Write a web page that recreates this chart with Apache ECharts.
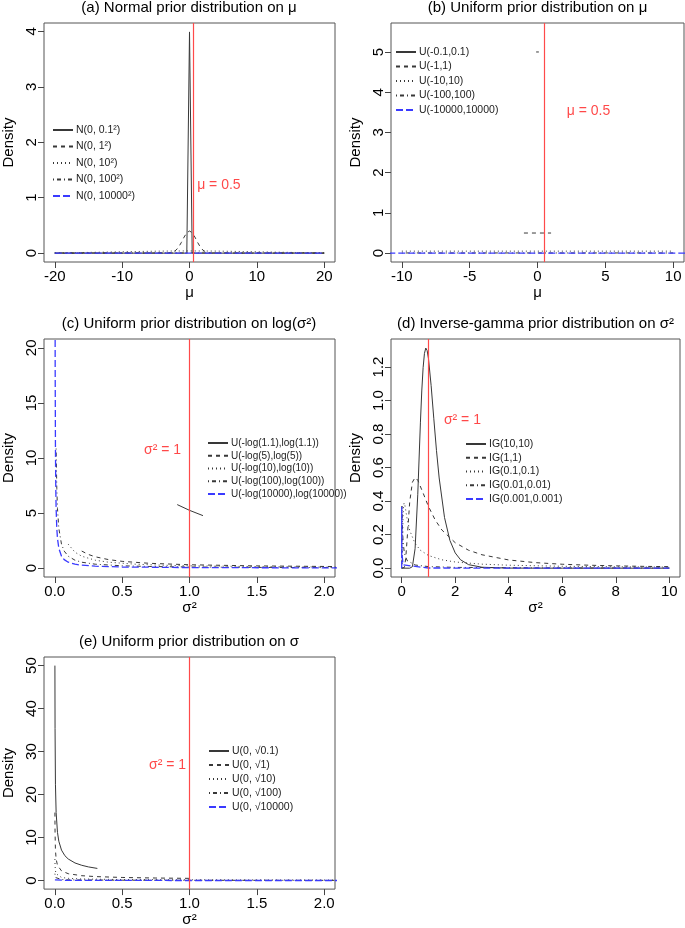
<!DOCTYPE html>
<html><head><meta charset="utf-8">
<script src="https://cdn.jsdelivr.net/npm/echarts@6/dist/echarts.min.js"></script>
<style>html,body{margin:0;padding:0;background:#fff}#c{width:685px;height:928px}</style>
</head><body><div id="c"></div>
<script>
// ---------- Panel (a): Normal prior on mu ----------
const aNames = ['N(0, 0.1²)', 'N(0, 1²)', 'N(0, 10²)', 'N(0, 100²)', 'N(0, 10000²)'];
const normSd01 = [[-20,0],[-0.4,0],[0,3.989],[0.4,0],[20,0]];
const normSd1 = [[-20,0],[-3.2,0.0024],[-2.8,0.0079],[-2.4,0.0224],[-2.0,0.054],[-1.6,0.1109],[-1.2,0.1942],[-0.8,0.2897],[-0.4,0.3683],[0,0.3989],[0.4,0.3683],[0.8,0.2897],[1.2,0.1942],[1.6,0.1109],[2.0,0.054],[2.4,0.0224],[2.8,0.0079],[3.2,0.0024],[20,0]];
const normSd10 = [[-20,0.0054],[-16,0.0111],[-12,0.0194],[-8,0.029],[-4,0.0368],[0,0.0399],[4,0.0368],[8,0.029],[12,0.0194],[16,0.0111],[20,0.0054]];
const normSd100 = [[-20,0.00391],[0,0.00399],[20,0.00391]];
const normSd10000 = [[-20,0.00004],[20,0.00004]];
const aXTicks = [-20,-10,0,10,20];
const aYTicks = [0,1,2,3,4];

// ---------- Panel (b): Uniform prior on mu ----------
const bNames = ['U(-0.1,0.1)', 'U(-1,1)', 'U(-10,10)', 'U(-100,100)', 'U(-10000,10000)'];
const unifMu01 = [[-0.1,5],[0.1,5]];
const unifMu1 = [[-1,0.5],[1,0.5]];
const unifMu10 = [[-10,0.05],[10,0.05]];
const unifMu100 = [[-10,0.005],[10,0.005]];
const unifMu10000 = [[-11,0.00005],[11,0.00005]];
const bXTicks = [-10,-5,0,5,10];
const bYTicks = [0,1,2,3,4,5];

// ---------- Panel (c): Uniform prior on log(sigma^2) ----------
const cNames = ['U(-log(1.1),log(1.1))', 'U(-log(5),log(5))', 'U(-log(10),log(10))', 'U(-log(100),log(100))', 'U(-log(10000),log(10000))'];
const logU11 = [[0.909,5.77],[1.0,5.25],[1.1,4.77]];
const logU5 = [[0.2,1.553],[0.25,1.243],[0.3,1.036],[0.4,0.777],[0.5,0.621],[0.7,0.444],[1.0,0.311],[1.5,0.207],[2.1,0.148]];
const logU10 = [[0.1,2.171],[0.15,1.448],[0.2,1.086],[0.3,0.724],[0.4,0.543],[0.6,0.362],[0.8,0.271],[1.0,0.217],[1.5,0.145],[2.1,0.103]];
const logU100 = [[0.01,10.86],[0.015,7.24],[0.02,5.43],[0.03,3.62],[0.05,2.171],[0.07,1.551],[0.1,1.086],[0.15,0.724],[0.2,0.543],[0.3,0.362],[0.5,0.217],[0.7,0.155],[1.0,0.109],[1.5,0.072],[2.1,0.052]];
const logU10000 = [[0.001,54.3],[0.002,27.1],[0.003,18.1],[0.005,10.86],[0.0075,7.24],[0.01,5.43],[0.015,3.62],[0.02,2.71],[0.03,1.81],[0.05,1.086],[0.07,0.776],[0.1,0.543],[0.15,0.362],[0.2,0.271],[0.3,0.181],[0.5,0.109],[1.0,0.054],[2.1,0.026]];
const cXTicks = [0,0.5,1,1.5,2];
const cYTicks = [0,5,10,15,20];

// ---------- Panel (d): Inverse-gamma prior on sigma^2 ----------
const dNames = ['IG(10,10)', 'IG(1,1)', 'IG(0.1,0.1)', 'IG(0.01,0.01)', 'IG(0.001,0.001)'];
const ig10 = [[0,0],[0.3,0.00005],[0.4,0.009],[0.5,0.116],[0.6,0.438],[0.7,0.871],[0.75,1.057],[0.8,1.196],[0.85,1.281],[0.9,1.313],[0.95,1.298],[1.0,1.251],[1.1,1.089],[1.2,0.891],[1.3,0.701],[1.4,0.538],[1.6,0.302],[1.8,0.166],[2.0,0.091],[2.2,0.050],[2.5,0.021],[3.0,0.0056],[4.0,0.0005],[6,0],[10,0]];
const ig1 = [[0,0],[0.05,0],[0.1,0.0045],[0.15,0.057],[0.2,0.168],[0.3,0.396],[0.4,0.513],[0.5,0.541],[0.6,0.525],[0.8,0.448],[1.0,0.368],[1.25,0.288],[1.5,0.228],[2,0.152],[2.5,0.107],[3,0.080],[4,0.049],[5,0.033],[6,0.0235],[7,0.0177],[8,0.0138],[9,0.011],[10,0.009]];
const ig01 = [[0,0],[0.01,0.0006],[0.02,0.042],[0.03,0.141],[0.05,0.305],[0.07,0.373],[0.09,0.389],[0.12,0.374],[0.15,0.346],[0.2,0.297],[0.3,0.225],[0.5,0.147],[0.7,0.107],[1,0.0756],[1.5,0.050],[2,0.037],[3,0.024],[4,0.0177],[6,0.0114],[8,0.0084],[10,0.0066]];
const ig001 = [[0,0],[0.001,0],[0.002,0.034],[0.005,0.274],[0.01,0.370],[0.015,0.343],[0.02,0.303],[0.03,0.238],[0.05,0.162],[0.1,0.089],[0.2,0.046],[0.5,0.019],[1,0.0095],[2,0.0047],[5,0.0019],[10,0.0009]];
const ig0001 = [[0,0],[0.0001,0],[0.0002,0.034],[0.0005,0.271],[0.001,0.366],[0.002,0.303],[0.005,0.164],[0.01,0.090],[0.05,0.0196],[0.1,0.0099],[1,0.001],[10,0.0001]];
const dXTicks = [0,2,4,6,8,10];
const dYTicks = [0,0.2,0.4,0.6,0.8,1.0,1.2];

// ---------- Panel (e): Uniform prior on sigma ----------
const eNames = ['U(0, √0.1)', 'U(0, √1)', 'U(0, √10)', 'U(0, √100)', 'U(0, √10000)'];
const sqrtU01 = [[0.001,50.0],[0.002,35.4],[0.005,22.4],[0.01,15.8],[0.02,11.2],[0.03,9.13],[0.05,7.07],[0.075,5.77],[0.1,5.0],[0.15,4.08],[0.2,3.54],[0.25,3.16],[0.316,2.81]];
const sqrtU1 = [[0.001,15.8],[0.002,11.2],[0.005,7.07],[0.01,5.0],[0.02,3.54],[0.05,2.24],[0.1,1.58],[0.2,1.12],[0.3,0.913],[0.5,0.707],[0.75,0.577],[1.0,0.5]];
const sqrtU10 = [[0.001,5.0],[0.002,3.54],[0.005,2.24],[0.01,1.58],[0.02,1.12],[0.05,0.707],[0.1,0.5],[0.2,0.354],[0.5,0.224],[1,0.158],[1.5,0.129],[2.1,0.109]];
const sqrtU100 = [[0.001,1.58],[0.005,0.707],[0.01,0.5],[0.05,0.224],[0.1,0.158],[0.5,0.0707],[1,0.05],[2.1,0.0345]];
const sqrtU10000 = [[0.001,0.158],[0.01,0.05],[0.1,0.0158],[1,0.005],[2.1,0.00345]];
const eXTicks = [0,0.5,1,1.5,2];
const eYTicks = [0,10,20,30,40,50];

const titles = ['(a) Normal prior distribution on μ', '(b) Uniform prior distribution on μ',
  '(c) Uniform prior distribution on log(σ²)', '(d) Inverse-gamma prior distribution on σ²',
  '(e) Uniform prior distribution on σ'];
const refValues = [0.5, 0.5, 1, 1, 1];
const refTexts = ['μ = 0.5', 'μ = 0.5', 'σ² = 1', 'σ² = 1', 'σ² = 1'];

// ---------- layout & style ----------
const FONT = '"Liberation Sans", Arial, Helvetica, sans-serif';
const BLACK = '#383838', BLUE = '#3a3aff', RED = '#ff4a4a';
const dashes = ['solid', [4,4], [1,3], [1,3,4,3], [7,3]];

const panels = [
  {grid:{left:43,top:23,width:292,height:239}, x:[-21.6,21.6], y:[-0.16,4.15], xt:aXTicks, yt:aYTicks, xd:0, yd:0, xname:'μ', ng:15,
   names:aNames, data:[normSd01,normSd1,normSd10,normSd100,normSd10000], legend:{left:52,top:124,gap:4.5,fs:10.5}, ann:[4.36,1.23]},
  {grid:{left:391,top:23,width:293,height:239}, x:[-10.8,10.8], y:[-0.22,5.72], xt:bXTicks, yt:bYTicks, xd:0, yd:0, xname:'μ', ng:15,
   names:bNames, data:[unifMu01,unifMu1,unifMu10,unifMu100,unifMu10000], legend:{left:395,top:46,gap:2.5,fs:10.5}, ann:[3.76,3.53]},
  {grid:{left:43,top:339,width:292,height:238}, x:[-0.08,2.08], y:[-0.8,20.8], xt:cXTicks, yt:cYTicks, xd:1, yd:0, xname:'σ²', ng:16,
   names:cNames, data:[logU11,logU5,logU10,logU100,logU10000], legend:{left:207,top:437,gap:0.75,fs:10}, ann:[0.80,10.7]},
  {grid:{left:391,top:339,width:289,height:238}, x:[-0.4,10.4], y:[-0.0526,1.367], xt:dXTicks, yt:dYTicks, xd:0, yd:1, xname:'σ²', ng:16,
   names:dNames, data:[ig10,ig1,ig01,ig001,ig0001], legend:{left:465,top:438,gap:1.75,fs:10.5}, ann:[2.27,0.884]},
  {grid:{left:43,top:657,width:292,height:237}, x:[-0.08,2.08], y:[-2,52], xt:eXTicks, yt:eYTicks, xd:1, yd:0, xname:'σ²', ng:19,
   names:eNames, data:[sqrtU01,sqrtU1,sqrtU10,sqrtU100,sqrtU10000], legend:{left:208,top:745,gap:2,fs:10.5}, ann:[0.837,26.9]}
];

const option = {animation:false, backgroundColor:'#fff', textStyle:{fontFamily:FONT},
  title:[], grid:[], xAxis:[], yAxis:[], legend:[], series:[]};

panels.forEach((p, i) => {
  option.grid.push(Object.assign({show:true, borderColor:'#555', borderWidth:1, backgroundColor:'transparent'}, p.grid));
  const cx = p.grid.left + p.grid.width/2;
  option.title.push({text:titles[i], left:cx, top:p.grid.top - 23, textAlign:'center', padding:0,
    textStyle:{fontSize:15, fontWeight:'normal', color:'#000', fontFamily:FONT}});
  const tick = {show:true, length:6, lineStyle:{color:'#444', width:1}};
  option.xAxis.push({type:'value', gridIndex:i, min:p.x[0], max:p.x[1], position:'bottom',
    axisLine:{show:false, onZero:false}, splitLine:{show:false},
    axisTick:Object.assign({customValues:p.xt}, tick),
    axisLabel:{customValues:p.xt, fontSize:15, color:'#000', margin:7, fontFamily:FONT,
      formatter:v => Number(v).toFixed(p.xd)},
    name:p.xname, nameLocation:'middle', nameGap:p.ng,
    nameTextStyle:{fontSize:15, color:'#000', fontFamily:FONT}});
  option.yAxis.push({type:'value', gridIndex:i, min:p.y[0], max:p.y[1], position:'left',
    axisLine:{show:false, onZero:false}, splitLine:{show:false},
    axisTick:Object.assign({customValues:p.yt}, tick),
    axisLabel:{customValues:p.yt, fontSize:15, color:'#000', margin:5, rotate:90, fontFamily:FONT,
      formatter:v => Number(v).toFixed(p.yd)},
    name:'Density', nameLocation:'middle', nameGap:28,
    nameTextStyle:{fontSize:15, color:'#000', fontFamily:FONT}});
  option.legend.push({data:p.names, orient:'vertical', left:p.legend.left, top:p.legend.top,
    itemWidth:20, itemHeight:12, itemGap:p.legend.gap, padding:0, selectedMode:false,
    itemStyle:{opacity:0, borderWidth:0},
    textStyle:{fontSize:p.legend.fs, lineHeight:12, color:'#222', fontFamily:FONT, padding:[0,0,0,-2]}});
  p.names.forEach((nm, k) => {
    const col = k === 4 ? BLUE : BLACK;
    option.series.push({type:'line', name:nm, xAxisIndex:i, yAxisIndex:i, data:p.data[k],
      symbol:'none', showSymbol:false, clip:true, smooth:false, silent:true,
      lineStyle:{color:col, width:k === 4 ? 1.3 : 1, type:dashes[k]}, itemStyle:{color:col}});
  });
  option.series.push({type:'scatter', name:'ref'+i, xAxisIndex:i, yAxisIndex:i,
    data:[[p.ann[0], p.ann[1]]], symbolSize:0, silent:true,
    label:{show:true, position:'inside', formatter:refTexts[i], color:'#ff1a1a', fontSize:14, fontFamily:FONT},
    markLine:{symbol:['none','none'], silent:true, label:{show:false}, animation:false,
      lineStyle:{color:RED, width:1.2, type:'solid'}, data:[{xAxis:refValues[i]}]}});
});

const chart = echarts.init(document.getElementById('c'), null, {renderer:'canvas'});
chart.setOption(option);
</script></body></html>
